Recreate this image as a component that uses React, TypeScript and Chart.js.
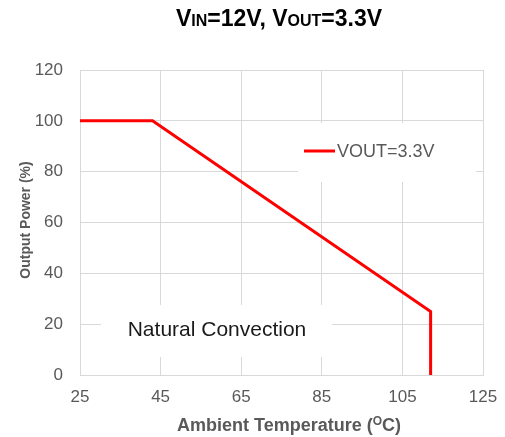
import React, { useEffect, useRef } from "react";
import { Chart, registerables } from "chart.js";

Chart.register(...registerables);

const temperatures = [25, 43, 112, 112];
const outputPower = [100, 100, 25, 0];
const seriesLabel = "VOUT=3.3V";
const xTicks = [25, 45, 65, 85, 105, 125];
const yTicks = [0, 20, 40, 60, 80, 100, 120];
const noteText = "Natural Convection";

const FONT = "'Liberation Sans', Arial, sans-serif";
const GRAY = "#595959";
const GRID = "#d9d9d9";

function drawRuns(ctx: CanvasRenderingContext2D, runs: { t: string; size: number; dy?: number }[], cx: number, y: number, color: string) {
  let total = 0;
  for (const r of runs) {
    ctx.font = `bold ${r.size}px ${FONT}`;
    total += ctx.measureText(r.t).width;
  }
  let x = cx - total / 2;
  ctx.fillStyle = color;
  ctx.textBaseline = "alphabetic";
  ctx.textAlign = "left";
  for (const r of runs) {
    ctx.font = `bold ${r.size}px ${FONT}`;
    ctx.fillText(r.t, x, y + (r.dy || 0));
    x += ctx.measureText(r.t).width;
  }
}

const decorPlugin = {
  id: "decor",
  beforeDatasetsDraw(chart: any) {
    const ctx = chart.ctx as CanvasRenderingContext2D;
    ctx.save();
    ctx.fillStyle = "#ffffff";
    // legend box mask
    ctx.fillRect(298, 123, 178, 59);
    // note box mask
    ctx.fillRect(101, 305, 231, 52);
    ctx.restore();
  },
  afterDraw(chart: any) {
    const ctx = chart.ctx as CanvasRenderingContext2D;
    ctx.save();
    // title
    drawRuns(
      ctx,
      [
        { t: "V", size: 23 },
        { t: "IN", size: 16 },
        { t: "=12V, V", size: 23 },
        { t: "OUT", size: 16 },
        { t: "=3.3V", size: 23 },
      ],
      279,
      26,
      "#000000"
    );
    // x axis title
    drawRuns(
      ctx,
      [
        { t: "Ambient Temperature (", size: 18 },
        { t: "O", size: 12, dy: -6 },
        { t: "C)", size: 18 },
      ],
      289,
      431,
      GRAY
    );
    // y axis title
    ctx.save();
    ctx.translate(30, 220);
    ctx.rotate(-Math.PI / 2);
    ctx.font = `bold 14px ${FONT}`;
    ctx.fillStyle = GRAY;
    ctx.textAlign = "center";
    ctx.textBaseline = "alphabetic";
    ctx.fillText("Output Power (%)", 0, 0);
    ctx.restore();
    // legend
    const ds = chart.data.datasets[0];
    ctx.strokeStyle = ds.borderColor;
    ctx.lineWidth = 3;
    ctx.beginPath();
    ctx.moveTo(304, 151);
    ctx.lineTo(335, 151);
    ctx.stroke();
    ctx.font = `18px ${FONT}`;
    ctx.fillStyle = GRAY;
    ctx.textAlign = "left";
    ctx.textBaseline = "middle";
    ctx.fillText(ds.label, 337, 152);
    // note
    ctx.font = `21px ${FONT}`;
    ctx.fillStyle = "#1a1a1a";
    ctx.textAlign = "center";
    ctx.fillText(noteText, 217, 330);
    ctx.restore();
  },
};

export default function App() {
  const ref = useRef<HTMLCanvasElement>(null);
  useEffect(() => {
    if (!ref.current) return;
    const chart = new Chart(ref.current, {
      type: "line",
      data: {
        datasets: [
          {
            label: seriesLabel,
            data: temperatures.map((t, i) => ({ x: t, y: outputPower[i] })),
            borderColor: "#ff0000",
            borderWidth: 3,
            pointRadius: 0,
            fill: false,
            tension: 0,
          },
        ],
      },
      options: {
        animation: false,
        responsive: false,
        maintainAspectRatio: false,
        layout: { padding: { top: 70, right: 22, bottom: 0, left: 0 } },
        plugins: { legend: { display: false }, tooltip: { enabled: false }, title: { display: false } },
        scales: {
          x: {
            type: "linear",
            min: xTicks[0],
            max: xTicks[xTicks.length - 1],
            afterBuildTicks: (s: any) => {
              s.ticks = xTicks.map((v) => ({ value: v }));
            },
            afterFit: (s: any) => {
              s.height = 62;
              s.paddingLeft = 0;
              s.paddingRight = 0;
            },
            grid: { color: GRID, lineWidth: 1, drawTicks: false },
            border: { color: GRID },
            ticks: { color: GRAY, font: { family: FONT, size: 17 }, padding: 12, maxRotation: 0 },
          },
          y: {
            type: "linear",
            min: yTicks[0],
            max: yTicks[yTicks.length - 1],
            afterBuildTicks: (s: any) => {
              s.ticks = yTicks.map((v) => ({ value: v }));
            },
            afterFit: (s: any) => {
              s.width = 80;
              s.paddingTop = 0;
              s.paddingBottom = 0;
            },
            grid: { color: GRID, lineWidth: 1, drawTicks: false },
            border: { color: GRID },
            ticks: { color: GRAY, font: { family: FONT, size: 17 }, padding: 17 },
          },
        },
      },
      plugins: [decorPlugin],
    });
    return () => chart.destroy();
  }, []);
  return (
    <div style={{ position: "absolute", left: 0, top: 0, width: 505, height: 437, background: "#fff" }}>
      <canvas ref={ref} width={505} height={437} style={{ width: 505, height: 437, display: "block" }} />
    </div>
  );
}
